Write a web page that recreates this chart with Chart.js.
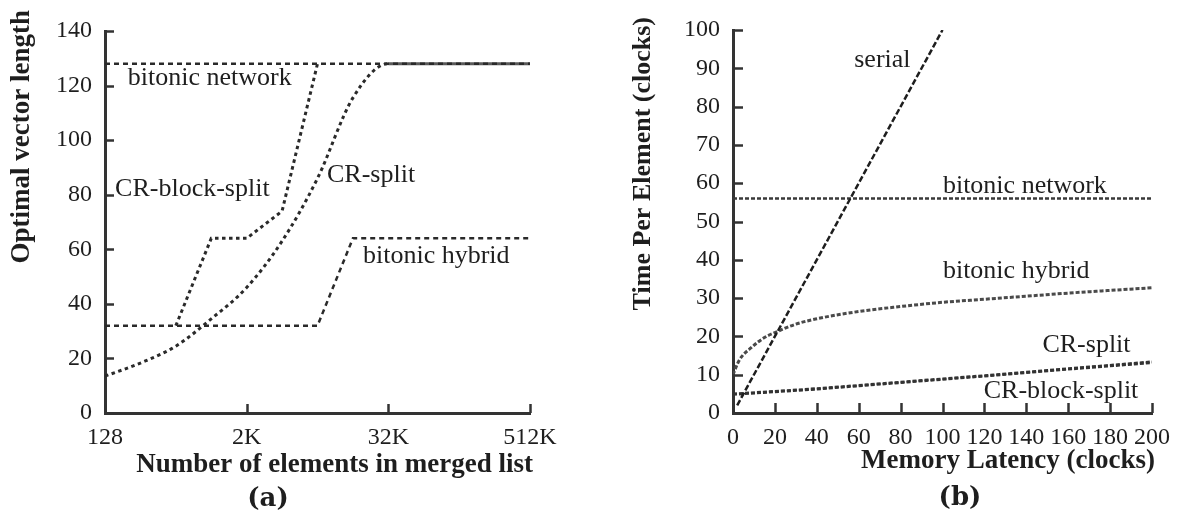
<!DOCTYPE html>
<html>
<head>
<meta charset="utf-8">
<script src="https://cdn.jsdelivr.net/npm/chart.js@4.4.1/dist/chart.umd.min.js"></script>
<style>
  html, body { margin: 0; padding: 0; background: #fff; }
  #wrap { position: relative; width: 1180px; height: 515px; overflow: hidden; }
  .panel { position: absolute; top: 0; width: 590px; height: 515px; }
</style>
</head>
<body>
<div id="wrap">
  <div class="panel" style="left:0"><canvas id="chartA" width="590" height="515"></canvas></div>
  <div class="panel" style="left:590px"><canvas id="chartB" width="590" height="515"></canvas></div>
</div>
<script>
// ---------- (a) optimal vector length vs. merged list size ----------
const listSizes = [128, 256, 512, 1024, 2048, 4096, 8192, 16384, 32768, 65536, 131072, 262144, 524288];
const sizeTicks = [128, 2048, 32768, 524288];
const sizeTickLabels = ['128', '2K', '32K', '512K'];
const vlenTicks = [0, 20, 40, 60, 80, 100, 120, 140];

const vlenBitonicNetwork = [128, 128, 128, 128, 128, 128, 128, 128, 128, 128, 128, 128, 128];
const vlenCRBlockSplit   = [null, null, 32, 64, 64, 74, 128, null, null, null, null, null, null];
const vlenCRSplit        = [13.5, 18.3, 24.5, 34.5, 46, 63, 86, 115.5, 128, 128, 128, 128, 128];
const vlenBitonicHybrid  = [32, 32, 32, 32, 32, 32, 32, 64, 64, 64, 64, 64, 64];

// ---------- (b) time per element vs. memory latency ----------
const latencyTicks = [0, 20, 40, 60, 80, 100, 120, 140, 160, 180, 200];
const timeTicks = [0, 10, 20, 30, 40, 50, 60, 70, 80, 90, 100];

const serialLatency = [2, 100];
const serialTime    = [2, 100];
const networkLatency = [0, 200];
const networkTime    = [56, 56];
const hybridLatency = [0, 3, 9, 15, 20, 30, 40, 60, 80, 100, 120, 140, 160, 180, 200];
const hybridTime    = [10, 13.8, 17.2, 19.7, 21, 23.2, 24.6, 26.5, 27.8, 28.9, 29.7, 30.5, 31.3, 32, 32.7];
const crLatency      = [0, 40, 80, 120, 160, 200];
const crSplitTime    = [5.0, 6.4, 8.1, 9.8, 11.6, 13.4];
const crBlockTime    = [4.8, 6.2, 7.9, 9.6, 11.4, 13.1];

// ---------- shared styling ----------
const SERIF = "'Liberation Serif', 'Times New Roman', serif";
const INK = '#2a2a2a';
const AXIS = '#333333';

const pairs = (xs, ys) => xs.map((x, i) => ({ x, y: ys[i] }));

// Tick marks pointing into the plot area, drawn on top of the axis lines.
const inwardTicks = {
  id: 'inwardTicks',
  afterDraw(chart, args, opts) {
    const { ctx, chartArea } = chart;
    const len = opts.length || 10;
    ctx.save();
    ctx.strokeStyle = AXIS;
    ctx.lineWidth = 2.5;
    const sx = chart.scales.x, sy = chart.scales.y;
    sx.ticks.forEach(t => {
      const px = Math.round(sx.getPixelForValue(t.value)) + 0.5;
      ctx.beginPath(); ctx.moveTo(px, chartArea.bottom); ctx.lineTo(px, chartArea.bottom - len); ctx.stroke();
    });
    sy.ticks.forEach(t => {
      const py = Math.round(sy.getPixelForValue(t.value)) + 0.5;
      ctx.beginPath(); ctx.moveTo(chartArea.left, py); ctx.lineTo(chartArea.left + len, py); ctx.stroke();
    });
    ctx.restore();
  }
};

// Series names, axis titles and panel caption.
const panelText = {
  id: 'panelText',
  afterDraw(chart, args, o) {
    const { ctx, chartArea } = chart;
    const sx = chart.scales.x, sy = chart.scales.y;
    ctx.save();
    ctx.fillStyle = '#1e1e1e';
    ctx.textBaseline = 'alphabetic';
    ctx.font = `26px ${SERIF}`;
    (o.labels || []).forEach(l => {
      ctx.textAlign = l.align || 'left';
      ctx.fillText(l.text, sx.getPixelForValue(l.x), sy.getPixelForValue(l.y));
    });
    // x title, right-aligned to the end of the axis
    ctx.font = `bold ${o.xTitle.size}px ${SERIF}`;
    ctx.textAlign = 'right';
    ctx.fillText(o.xTitle.text, chartArea.right + o.xTitle.dx, o.xTitle.baseline);
    // y title, reading upwards, ending above the axis
    ctx.save();
    ctx.font = `bold ${o.yTitle.size}px ${SERIF}`;
    ctx.translate(o.yTitle.baseline, o.yTitle.end);
    ctx.rotate(-Math.PI / 2);
    ctx.textAlign = 'right';
    ctx.fillText(o.yTitle.text, 0, 0);
    ctx.restore();
    // caption
    ctx.font = `bold 26px 'DejaVu Serif', serif`;
    ctx.textAlign = 'center';
    ctx.fillText(o.caption.text, o.caption.x, o.caption.baseline);
    ctx.restore();
  }
};

function axisCommon(extra) {
  return Object.assign({
    grid: { display: false, drawTicks: false },
    border: { display: true, color: AXIS, width: 3 },
    ticks: { color: '#1e1e1e', font: { family: SERIF, size: 24 }, autoSkip: false, maxRotation: 0 }
  }, extra);
}

// ---------- chart (a) ----------
new Chart(document.getElementById('chartA'), {
  type: 'line',
  data: {
    labels: listSizes,
    datasets: [
      { label: 'bitonic network', data: vlenBitonicNetwork, borderColor: INK, borderWidth: 2.5, borderDash: [5, 4] },
      { label: 'CR-block-split', data: vlenCRBlockSplit, borderColor: INK, borderWidth: 3, borderDash: [3.5, 3.5] },
      { label: 'CR-split', data: vlenCRSplit, borderColor: INK, borderWidth: 3, borderDash: [3.5, 3.5],
        cubicInterpolationMode: 'monotone',
        segment: {
          borderDash: c => (c.p0.parsed.y === 128 && c.p1.parsed.y === 128) ? [] : undefined,
          borderColor: c => (c.p0.parsed.y === 128 && c.p1.parsed.y === 128) ? '#5a5a5a' : undefined
        } },
      { label: 'bitonic hybrid', data: vlenBitonicHybrid, borderColor: INK, borderWidth: 2.5, borderDash: [5, 4] }
    ].map(d => Object.assign({ pointRadius: 0, fill: false, tension: 0, borderCapStyle: 'butt', spanGaps: false }, d))
  },
  options: {
    responsive: false,
    animation: false,
    layout: { padding: { left: 0, right: 60, top: 31, bottom: 0 } },
    plugins: {
      legend: { display: false },
      tooltip: { enabled: false },
      inwardTicks: { length: 9 },
      panelText: {
        labels: [
          { text: 'bitonic network', x: 200, y: 120.2 },
          { text: 'CR-block-split', x: 156, y: 79.5 },
          { text: 'CR-split', x: 9860, y: 84.6 },
          { text: 'bitonic hybrid', x: 19950, y: 55 }
        ],
        xTitle: { text: 'Number of elements in merged list', dx: 3, baseline: 472, size: 27 },
        yTitle: { text: 'Optimal vector length', baseline: 29, end: 10, size: 27 },
        caption: { text: '(a)', x: 268, baseline: 506 }
      }
    },
    scales: {
      x: axisCommon({
        type: 'logarithmic', min: 128, max: 524288,
        afterBuildTicks: s => { s.ticks = sizeTicks.map(v => ({ value: v })); },
        afterFit: s => { s.height = 515 - 413; },
        ticks: { color: '#1e1e1e', font: { family: SERIF, size: 24 }, autoSkip: false, maxRotation: 0, padding: 10,
                 callback: (v) => sizeTickLabels[sizeTicks.indexOf(v)] }
      }),
      y: axisCommon({
        type: 'linear', min: 0, max: 140,
        afterBuildTicks: s => { s.ticks = vlenTicks.map(v => ({ value: v })); },
        afterFit: s => { s.width = 105; },
        ticks: { color: '#1e1e1e', font: { family: SERIF, size: 24 }, padding: 13 }
      })
    }
  },
  plugins: [inwardTicks, panelText]
});

// ---------- chart (b) ----------
new Chart(document.getElementById('chartB'), {
  type: 'line',
  data: {
    datasets: [
      { label: 'serial', data: pairs(serialLatency, serialTime), borderColor: '#1e1e1e', borderWidth: 2.5, borderDash: [6, 2.5] },
      { label: 'bitonic network', data: pairs(networkLatency, networkTime), borderColor: '#3a3a3a', borderWidth: 2.5, borderDash: [4, 2] },
      { label: 'bitonic hybrid', data: pairs(hybridLatency, hybridTime), borderColor: '#4a4a4a', borderWidth: 3, borderDash: [4, 2],
        cubicInterpolationMode: 'monotone' },
      { label: 'CR-split', data: pairs(crLatency, crSplitTime), borderColor: '#333', borderWidth: 2.5, borderDash: [4, 2] },
      { label: 'CR-block-split', data: pairs(crLatency, crBlockTime), borderColor: '#333', borderWidth: 2.5, borderDash: [4, 2] }
    ].map(d => Object.assign({ pointRadius: 0, fill: false, tension: 0, borderCapStyle: 'butt' }, d))
  },
  options: {
    responsive: false,
    animation: false,
    layout: { padding: { left: 0, right: 26, top: 30, bottom: 0 } },
    plugins: {
      legend: { display: false },
      tooltip: { enabled: false },
      inwardTicks: { length: 10 },
      panelText: {
        labels: [
          { text: 'serial', x: 71.3, y: 90.3, align: 'center' },
          { text: 'bitonic network', x: 100.2, y: 57.4 },
          { text: 'bitonic hybrid', x: 100.2, y: 35.2 },
          { text: 'CR-split', x: 147.7, y: 15.9 },
          { text: 'CR-block-split', x: 119.7, y: 3.9 }
        ],
        xTitle: { text: 'Memory Latency (clocks)', dx: 3, baseline: 468, size: 27 },
        yTitle: { text: 'Time Per Element (clocks)', baseline: 60, end: 17, size: 26 },
        caption: { text: '(b)', x: 370, baseline: 505 }
      }
    },
    scales: {
      x: axisCommon({
        type: 'linear', min: 0, max: 200,
        afterBuildTicks: s => { s.ticks = latencyTicks.map(v => ({ value: v })); },
        afterFit: s => { s.height = 515 - 413; },
        ticks: { color: '#1e1e1e', font: { family: SERIF, size: 24 }, autoSkip: false, maxRotation: 0, padding: 10 }
      }),
      y: axisCommon({
        type: 'linear', min: 0, max: 100,
        afterBuildTicks: s => { s.ticks = timeTicks.map(v => ({ value: v })); },
        afterFit: s => { s.width = 143; },
        ticks: { color: '#1e1e1e', font: { family: SERIF, size: 24 }, padding: 13 }
      })
    }
  },
  plugins: [inwardTicks, panelText]
});
</script>
</body>
</html>
